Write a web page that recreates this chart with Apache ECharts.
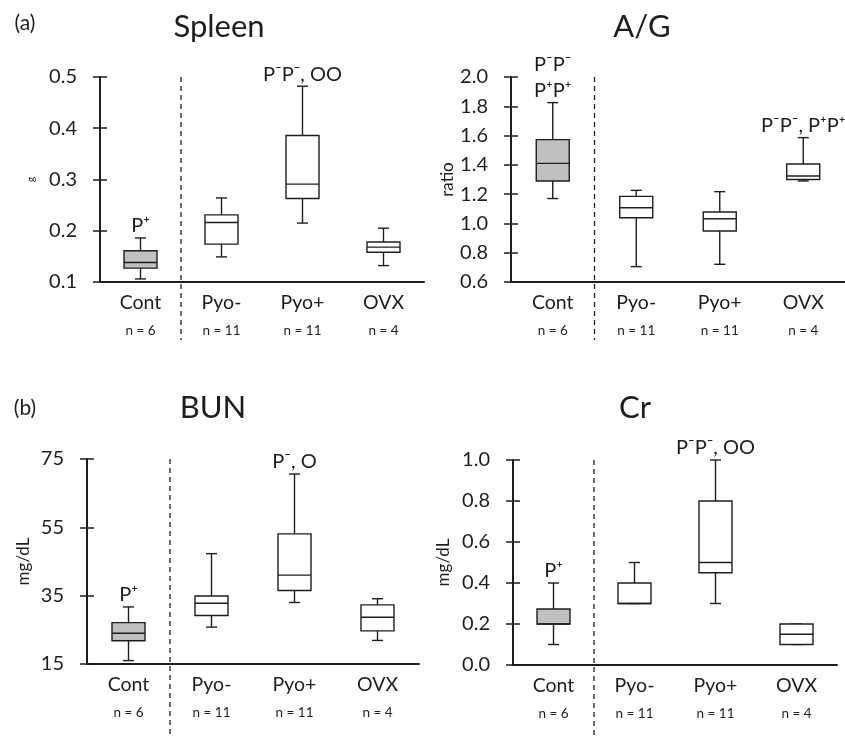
<!DOCTYPE html>
<html>
<head>
<meta charset="utf-8">
<script src="https://cdn.jsdelivr.net/npm/echarts@6/dist/echarts.min.js"></script>
<style>html,body{margin:0;padding:0;background:#fff}#c{width:845px;height:737px}</style>
</head>
<body>
<div id="c"></div>
<script>
const categories = ['Cont', 'Pyo-', 'Pyo+', 'OVX'];
const groupSizes = ['n = 6', 'n = 11', 'n = 11', 'n = 4'];

// each row: [min, Q1, median, Q3, max]
const spleenStats = [
  [0.106, 0.127, 0.138, 0.161, 0.186],
  [0.149, 0.174, 0.216, 0.231, 0.264],
  [0.215, 0.263, 0.291, 0.386, 0.482],
  [0.132, 0.158, 0.168, 0.178, 0.205]
];
const agStats = [
  [1.170, 1.290, 1.410, 1.572, 1.825],
  [0.705, 1.039, 1.107, 1.185, 1.226],
  [0.721, 0.948, 1.032, 1.078, 1.217],
  [1.290, 1.300, 1.324, 1.406, 1.586]
];
const bunStats = [
  [16.0, 21.8, 24.0, 27.1, 31.7],
  [25.8, 29.2, 32.8, 34.9, 47.3],
  [33.0, 36.5, 41.0, 53.1, 70.6],
  [21.9, 24.7, 28.7, 32.3, 34.1]
];
const crStats = [
  [0.10, 0.20, 0.20, 0.273, 0.40],
  [0.30, 0.30, 0.30, 0.40, 0.50],
  [0.30, 0.45, 0.50, 0.80, 1.00],
  [0.10, 0.10, 0.15, 0.20, 0.20]
];

const spleenNotes = ['P\u207A', '', 'P\u207BP\u207B, OO', ''];
const agNotes = ['P\u207BP\u207B\nP\u207AP\u207A', '', '', 'P\u207BP\u207B, P\u207AP\u207A'];
const bunNotes = ['P\u207A', '', 'P\u207B, O', ''];
const crNotes = ['P\u207A', '', 'P\u207BP\u207B, OO', ''];

const spleenTicks = [0.1, 0.2, 0.3, 0.4, 0.5];
const agTicks = [0.6, 0.8, 1.0, 1.2, 1.4, 1.6, 1.8, 2.0];
const bunTicks = [15, 35, 55, 75];
const crTicks = [0.0, 0.2, 0.4, 0.6, 0.8, 1.0];

const titles = ['Spleen', 'A/G', 'BUN', 'Cr'];
const yNames = ['g', 'ratio', 'mg/dL', 'mg/dL'];
const panelLetters = ['(a)', '(b)'];

const FONT = 'Lato, "Open Sans", "DejaVu Sans", sans-serif';
const INK = '#1e1e1e';

const panels = [
  { stats: spleenStats, notes: spleenNotes, ticks: spleenTicks, dec: 1,
    grid: { left: 100, top: 77, width: 324, height: 205 }, nameGap: 64, nameSize: 10, divExt: 58 },
  { stats: agStats, notes: agNotes, ticks: agTicks, dec: 1,
    grid: { left: 511, top: 77, width: 334, height: 205 }, nameGap: 55, nameSize: 17, divExt: 58 },
  { stats: bunStats, notes: bunNotes, ticks: bunTicks, dec: 0,
    grid: { left: 87, top: 459, width: 332, height: 205 }, nameGap: 55, nameSize: 17, divExt: 80 },
  { stats: crStats, notes: crNotes, ticks: crTicks, dec: 1,
    grid: { left: 513, top: 460, width: 324, height: 205 }, nameGap: 61, nameSize: 17, divExt: 80 }
];

function makeBoxRender(notes) {
  return function (params, api) {
    const i = api.value(0);
    const mn = api.coord([i, api.value(1)]);
    const q1 = api.coord([i, api.value(2)]);
    const md = api.coord([i, api.value(3)]);
    const q3 = api.coord([i, api.value(4)]);
    const mx = api.coord([i, api.value(5)]);
    const cx = mn[0];
    const bw = 33, cw = 11;
    const ls = { stroke: INK, lineWidth: 1.4, fill: null };
    const children = [
      { type: 'line', shape: { x1: cx, y1: q3[1], x2: cx, y2: mx[1] }, style: ls },
      { type: 'line', shape: { x1: cx - cw / 2, y1: mx[1], x2: cx + cw / 2, y2: mx[1] }, style: ls },
      { type: 'line', shape: { x1: cx, y1: q1[1], x2: cx, y2: mn[1] }, style: ls },
      { type: 'line', shape: { x1: cx - cw / 2, y1: mn[1], x2: cx + cw / 2, y2: mn[1] }, style: ls },
      { type: 'rect', shape: { x: cx - bw / 2, y: q3[1], width: bw, height: q1[1] - q3[1] },
        style: { stroke: INK, lineWidth: 1.4, fill: i === 0 ? '#c0c0c0' : '#ffffff' } },
      { type: 'line', shape: { x1: cx - bw / 2, y1: md[1], x2: cx + bw / 2, y2: md[1] }, style: ls }
    ];
    const note = notes[i];
    if (note) {
      children.push({
        type: 'text', x: cx, y: mx[1] + 1,
        style: { text: note, fill: INK, font: '20px ' + FONT, lineHeight: 26,
          align: 'center', textAlign: 'center', verticalAlign: 'bottom', textVerticalAlign: 'bottom' }
      });
    }
    return { type: 'group', children: children };
  };
}

function makeDividerRender(ext) {
  return function (params, api) {
    const a = api.coord([0, 0]);
    const b = api.coord([1, 0]);
    const x = (a[0] + b[0]) / 2;
    const cs = params.coordSys;
    return {
      type: 'line',
      shape: { x1: x, y1: cs.y, x2: x, y2: cs.y + cs.height + ext },
      style: { stroke: INK, lineWidth: 1.3, lineDash: [5, 4] }
    };
  };
}

const grids = [], xAxes = [], yAxes = [], series = [];
panels.forEach((p, k) => {
  grids.push(Object.assign({ outerBoundsMode: 'none', containLabel: false }, p.grid));
  xAxes.push({
    type: 'category', gridIndex: k, data: categories,
    axisTick: { show: false },
    axisLine: { lineStyle: { color: INK, width: 2 } },
    axisLabel: {
      margin: 9, interval: 0,
      formatter: (v, idx) => '{c|' + v + '}\n{n|' + groupSizes[idx] + '}',
      rich: {
        c: { fontFamily: FONT, fontSize: 19.5, color: INK, lineHeight: 23 },
        n: { fontFamily: FONT, fontSize: 13.5, color: INK, lineHeight: 33 }
      }
    }
  });
  const mn = p.ticks[0], mx = p.ticks[p.ticks.length - 1];
  const iv = p.ticks[1] - p.ticks[0];
  yAxes.push({
    type: 'value', gridIndex: k, position: 'left', min: mn, max: mx, interval: iv,
    name: yNames[k], nameLocation: 'middle', nameGap: p.nameGap,
    nameTextStyle: { fontFamily: FONT, fontSize: p.nameSize, color: INK },
    splitLine: { show: false },
    axisLine: { show: true, lineStyle: { color: INK, width: 2 } },
    axisTick: { show: true, inside: false, length: 7, lineStyle: { color: INK, width: 1.5 } },
    axisLabel: { margin: 23, fontFamily: FONT, fontSize: 20, color: INK,
      formatter: v => v.toFixed(p.dec) }
  });
  yAxes.push({
    type: 'value', gridIndex: k, position: 'left', offset: 0, min: mn, max: mx, interval: iv,
    splitLine: { show: false },
    axisLine: { show: false },
    axisTick: { show: true, inside: true, length: 7, lineStyle: { color: INK, width: 1.5 } },
    axisLabel: { show: false }
  });
  series.push({
    type: 'custom', xAxisIndex: k, yAxisIndex: 2 * k, clip: false,
    renderItem: makeDividerRender(p.divExt), data: [[0, mn]], silent: true
  });
  series.push({
    type: 'custom', xAxisIndex: k, yAxisIndex: 2 * k, clip: false,
    renderItem: makeBoxRender(p.notes),
    encode: { x: 0, y: [1, 2, 3, 4, 5] },
    data: p.stats.map((s, i) => [i].concat(s))
  });
});

const titlePos = [[219, 27], [642, 27], [213, 408], [635, 408]];
const letterPos = [[25, 23], [25, 408]];
const graphics = [];
titles.forEach((t, k) => graphics.push({
  type: 'text', x: titlePos[k][0], y: titlePos[k][1],
  style: { text: t, fill: INK, font: '31px ' + FONT, align: 'center', textAlign: 'center',
    verticalAlign: 'middle', textVerticalAlign: 'middle' }
}));
panelLetters.forEach((t, k) => graphics.push({
  type: 'text', x: letterPos[k][0], y: letterPos[k][1],
  style: { text: t, fill: INK, font: '21px ' + FONT, align: 'center', textAlign: 'center',
    verticalAlign: 'middle', textVerticalAlign: 'middle' }
}));

const chart = echarts.init(document.getElementById('c'), null, { renderer: 'canvas' });
chart.setOption({
  animation: false,
  backgroundColor: '#ffffff',
  grid: grids, xAxis: xAxes, yAxis: yAxes, series: series, graphic: graphics
});
</script>
</body>
</html>
